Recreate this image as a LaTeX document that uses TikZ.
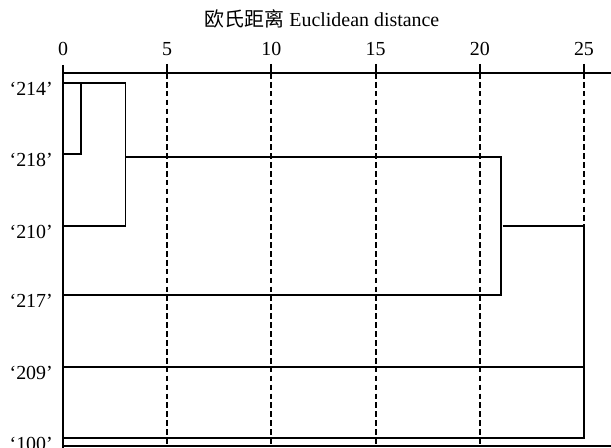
\documentclass[tikz,border=0pt]{standalone}
\usepackage{fontspec}
\setmainfont{Liberation Serif}
\newfontfamily\cjk{Noto Sans CJK SC}
\usetikzlibrary{positioning}
\tikzset{
	leaf/.style  ={anchor=base east, inner sep=0pt},
	scalelbl/.style={anchor=base, inner sep=0pt},
	link/.style  ={line width=1.6pt},
	guide/.style ={line width=1.6pt, dash pattern=on 4.8pt off 2.8pt},
}

\begin{document}
\begin{tikzpicture}[x=0.6252cm, y=-0.03cm, font=\fontsize{17}{20}\selectfont]
	\useasboundingbox (-3.023,0) rectangle (26.296,448);
	% title and distance scale
	\node[scalelbl] (title) at (12.43,27) {{\cjk 欧氏距离} Euclidean distance};
	\foreach \d in {0,5,...,25}
		\node[scalelbl] (s\d) at (\d,56) {\d};
	% leaves (x = distance, y = row)
	\foreach \n/\r in {214/83, 218/154, 210/226, 217/295, 209/367, 100/438} {
		\coordinate (l\n) at (0,\r);
		\node[leaf] (t\n) at (-0.48,\r+13) {‘\n’};
	}
	% frame
	\coordinate (ax0) at (0,73);
	\coordinate (ax1) at (26.3,73);
	\coordinate (bx1) at (26.3,446);
	\draw[link] (0,65) -- (0,448);
	\draw[link] (ax0) -- (ax1);
	\draw[link] (ax1 |- bx1) -- (0,446);
	\foreach \d/\e in {5/446, 10/446, 15/446, 20/446, 25/226} {
		\draw[link] (\d,64) -- (\d,73);
		\draw[guide] (\d,73) -- (\d,\e);
	}
	% merges
	\coordinate (k1) at (0.85,83);
	\coordinate (k2) at (3,226);
	\coordinate (j2) at (3,157);
	\coordinate (k3) at (21,295);
	\coordinate (j3) at (21.1,226);
	\coordinate (k4) at (25,438);
	\draw[link] (l218) -| (k1);
	\draw[link] (l214) -| (k2) -- (l210);
	\draw[link] (j2) -| (k3) -- (l217);
	\draw[link] (j3) -| (k4) -- (l100);
	\draw[link] (l209) -- (l209 -| k4);
\end{tikzpicture}
\end{document}
